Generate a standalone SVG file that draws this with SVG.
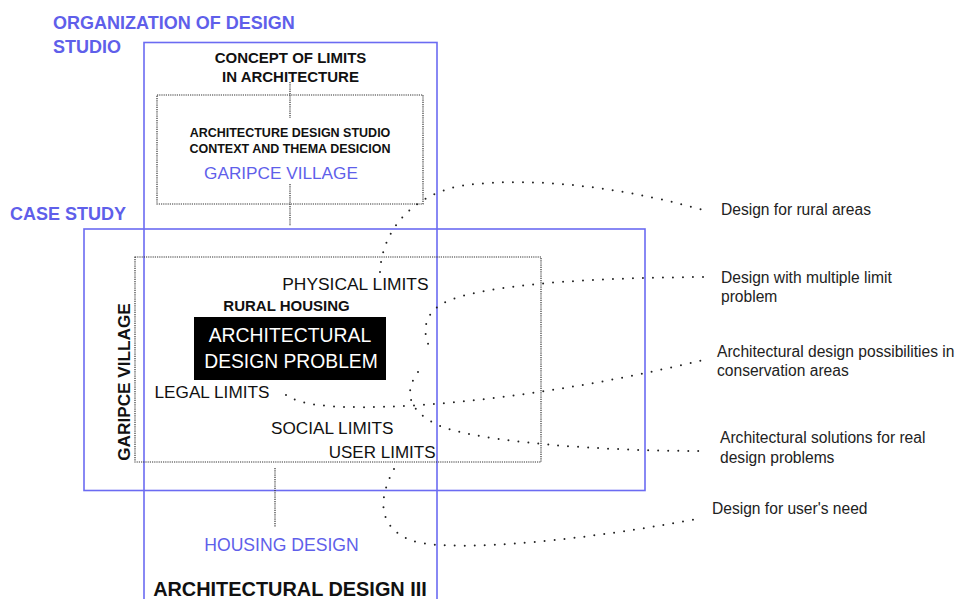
<svg xmlns="http://www.w3.org/2000/svg" width="959" height="599" viewBox="0 0 959 599">
<style>
.frame{fill:none;stroke:#6b6bf2;stroke-width:1.6}
.dotbox{fill:none;stroke:#333;stroke-width:1.2;stroke-dasharray:1.2 1}
.dotline{fill:none;stroke:#333;stroke-width:1.2;stroke-dasharray:1.2 1}
.curve{fill:none;stroke:#222;stroke-width:2;stroke-linecap:round;stroke-dasharray:0 10}
.t{font-family:"Liberation Sans",Arial,sans-serif;fill:#111}
.b{font-weight:bold}
.blue{fill:#5f5fea}
.lbl{font-family:"Liberation Sans",Arial,sans-serif;font-size:15.6px;fill:#222}
</style>
<rect width="959" height="599" fill="#fff"/>

<g id="studio-frame">
<rect class="frame" x="144" y="42.5" width="293" height="600"/>
<text class="t b blue" x="53" y="29" font-size="18">ORGANIZATION OF DESIGN</text>
<text class="t b blue" x="53" y="53" font-size="18">STUDIO</text>
</g>

<g id="case-study-frame">
<rect class="frame" x="84" y="229" width="561" height="261.5"/>
<text class="t b blue" x="10" y="220" font-size="18">CASE STUDY</text>
<text class="t b" x="130" y="382" font-size="17.2" text-anchor="middle" transform="rotate(-90 130 382)">GARIPCE VILLAGE</text>
</g>

<g id="concept">
<text class="t b" x="290.5" y="62.5" font-size="15" text-anchor="middle">CONCEPT OF LIMITS</text>
<text class="t b" x="290.5" y="81.5" font-size="15" text-anchor="middle">IN ARCHITECTURE</text>
</g>

<g id="context-box">
<rect class="dotbox" x="157" y="95" width="266" height="109"/>
<text class="t b" x="290" y="137" font-size="12.5" text-anchor="middle">ARCHITECTURE DESIGN STUDIO</text>
<text class="t b" x="290" y="153" font-size="12.5" text-anchor="middle">CONTEXT AND THEMA DESICION</text>
<text class="t blue" x="281" y="179" font-size="17.2" text-anchor="middle">GARIPCE VILLAGE</text>
</g>

<g id="limits-box">
<rect class="dotbox" x="135" y="257" width="406" height="205"/>
<text class="t" x="428.5" y="290" font-size="17.4" text-anchor="end">PHYSICAL LIMITS</text>
<text class="t b" x="286.5" y="310.5" font-size="15" text-anchor="middle">RURAL HOUSING</text>
<text class="t" x="154.5" y="398" font-size="17.2">LEGAL LIMITS</text>
<text class="t" x="393.5" y="434" font-size="17.2" text-anchor="end">SOCIAL LIMITS</text>
<text class="t" x="435.5" y="457.5" font-size="17" text-anchor="end">USER LIMITS</text>
</g>

<g id="design-problem">
<rect x="194" y="317" width="192" height="63" fill="#000"/>
<text class="t" x="290" y="342" font-size="19.4" text-anchor="middle" fill="#fff" style="fill:#fff">ARCHITECTURAL</text>
<text class="t" x="291" y="368" font-size="19.3" text-anchor="middle" style="fill:#fff">DESIGN PROBLEM</text>
</g>

<g id="housing-design">
<text class="t blue" x="281.5" y="551" font-size="17.6" text-anchor="middle">HOUSING DESIGN</text>
</g>

<g id="architectural-design-iii">
<text class="t b" x="290" y="595.5" font-size="19.9" text-anchor="middle">ARCHITECTURAL DESIGN III</text>
</g>

<g id="labels">
<text class="lbl" x="721" y="215">Design for rural areas</text>
<text class="lbl" x="721" y="283">Design with multiple limit</text>
<text class="lbl" x="721" y="302">problem</text>
<text class="lbl" x="717" y="357">Architectural design possibilities in</text>
<text class="lbl" x="717" y="376">conservation areas</text>
<text class="lbl" x="720" y="443">Architectural solutions for real</text>
<text class="lbl" x="720" y="463">design problems</text>
<text class="lbl" x="712" y="514">Design for user's need</text>
</g>

<g id="connectors">
<line class="dotline" x1="290" y1="82" x2="290" y2="118"/>
<line class="dotline" x1="290" y1="184" x2="290" y2="226"/>
<line class="dotline" x1="275" y1="468" x2="275" y2="527"/>
<path class="curve" d="M380,272 C382,232 410,196 460,186 C540,174 640,192 703,210"/>
<path class="curve" d="M703,277 C580,278 490,285 450,300 C425,310 420,330 431,350"/>
<path class="curve" d="M286,395 C300,405 330,408 380,407 C480,404 600,385 703,360"/>
<path class="curve" d="M418,372 C405,390 405,410 440,426 C480,442 600,451 702,451"/>
<path class="curve" d="M394,469 C380,495 375,525 410,540 C440,552 560,545 702,518"/>
</g>
</svg>
